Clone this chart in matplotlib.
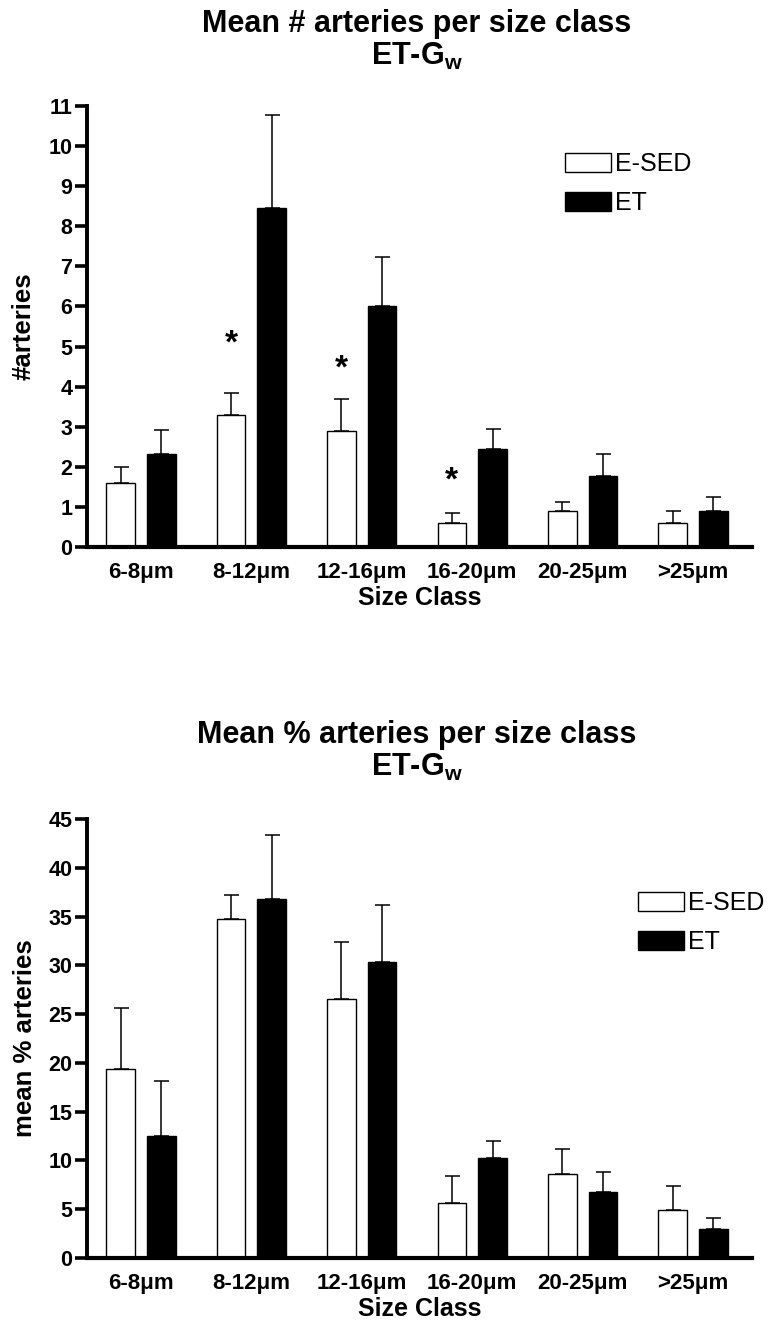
import numpy as np
import matplotlib
matplotlib.use('Agg')
import matplotlib.pyplot as plt
from matplotlib.patches import Patch

plt.rcParams['font.family'] = ['Liberation Sans', 'DejaVu Sans']
plt.rcParams['mathtext.fontset'] = 'custom'
plt.rcParams['mathtext.rm'] = 'Liberation Sans:bold'
plt.rcParams['mathtext.bf'] = 'Liberation Sans:bold'

# data
size_classes = ['6-8μm', '8-12μm', '12-16μm', '16-20μm', '20-25μm', '>25μm']

n_esed = [1.6, 3.3, 2.9, 0.6, 0.9, 0.6]
n_esed_err = [0.4, 0.53, 0.8, 0.26, 0.22, 0.31]
n_et = [2.33, 8.45, 6.0, 2.44, 1.78, 0.9]
n_et_err = [0.59, 2.33, 1.23, 0.5, 0.55, 0.34]
star_groups = [1, 2, 3]
star_heights = [5.26, 4.64, 1.85]

pct_esed = [19.4, 34.7, 26.5, 5.65, 8.65, 4.96]
pct_esed_err = [6.18, 2.47, 5.89, 2.72, 2.48, 2.47]
pct_et = [12.5, 36.8, 30.3, 10.3, 6.78, 3.0]
pct_et_err = [5.65, 6.54, 5.85, 1.66, 1.99, 1.14]

W, H = 771, 1323
fig = plt.figure(figsize=(W / 100, H / 100), dpi=100)


def px_rect(left, top, right, bottom):
    return [left / W, 1 - bottom / H, (right - left) / W, (bottom - top) / H]


def draw_panel(ax, esed, esed_err, et, et_err, ymax, ystep, legend_xy):
    x = np.arange(len(size_classes))
    w = 0.258
    off = 0.184
    ax.bar(x - off, esed, w, color='white', edgecolor='black', linewidth=1.0, zorder=2)
    ax.bar(x + off, et, w, color='black', edgecolor='black', linewidth=1.0, zorder=2)
    ax.errorbar(x - off, esed, yerr=[np.zeros(len(esed)), esed_err], fmt='none',
                ecolor='black', elinewidth=1.1, capsize=5.4, capthick=1.1, zorder=1)
    ax.errorbar(x + off, et, yerr=[np.zeros(len(et)), et_err], fmt='none',
                ecolor='black', elinewidth=1.1, capsize=5.4, capthick=1.1, zorder=1)

    ax.set_xlim(-0.489, 5.534)
    ax.set_ylim(0, ymax)
    ax.set_yticks(np.arange(0, ymax + 0.01, ystep))
    ax.set_xticks(x)
    ax.set_xticklabels(size_classes, fontsize=16, fontweight='bold')
    for lab in ax.get_yticklabels():
        lab.set_fontsize(15.5)
        lab.set_fontweight('bold')
    ax.tick_params(axis='x', length=0, pad=11)
    ax.tick_params(axis='y', length=9, width=2.6, pad=1.5)
    for s in ['top', 'right']:
        ax.spines[s].set_visible(False)
    ax.spines['left'].set_linewidth(2.8)
    ax.spines['bottom'].set_linewidth(3.0)
    ax.set_xlabel('Size Class', fontsize=18, fontweight='bold', labelpad=2)

    handles = [Patch(facecolor='white', edgecolor='black', linewidth=1.0),
               Patch(facecolor='black', edgecolor='black')]
    ax.legend(handles, ['E-SED', 'ET'], loc='upper left',
              bbox_to_anchor=(legend_xy[0] / W, 1 - legend_xy[1] / H),
              bbox_transform=fig.transFigure, frameon=False, fontsize=18,
              handlelength=1.85, handleheight=0.82, handletextpad=0.15,
              labelspacing=0.6, borderpad=0, borderaxespad=0)


ax1 = fig.add_axes(px_rect(87, 106, 752, 547))
draw_panel(ax1, n_esed, n_esed_err, n_et, n_et_err, 11, 1, (565, 152))
for g, hgt in zip(star_groups, star_heights):
    ax1.annotate('*', xy=(g - 0.184, hgt), xytext=(0, -12), textcoords='offset points',
                 ha='center', va='baseline', fontsize=24, fontweight='bold')

ax2 = fig.add_axes(px_rect(87, 819, 752, 1258))
draw_panel(ax2, pct_esed, pct_esed_err, pct_et, pct_et_err, 45, 5, (638, 891))

# titles, each line on its own baseline
fig.text(417 / W, 1 - 32 / H, 'Mean # arteries per size class', ha='center', va='baseline',
         fontsize=22, fontweight='bold')
fig.text(417 / W, 1 - 65 / H, r'ET-G$_{\mathbf{w}}$', ha='center', va='baseline',
         fontsize=22, fontweight='bold')
fig.text(417 / W, 1 - 743 / H, 'Mean % arteries per size class', ha='center', va='baseline',
         fontsize=22, fontweight='bold')
fig.text(417 / W, 1 - 776 / H, r'ET-G$_{\mathbf{w}}$', ha='center', va='baseline',
         fontsize=22, fontweight='bold')

# y labels
fig.text(24 / W, 1 - 326 / H, '#arteries', rotation=90, ha='center', va='center',
         fontsize=18.5, fontweight='bold')
fig.text(25 / W, 1 - 1038 / H, 'mean % arteries', rotation=90, ha='center', va='center',
         fontsize=18.5, fontweight='bold')

fig.savefig('out.png', dpi=100)
